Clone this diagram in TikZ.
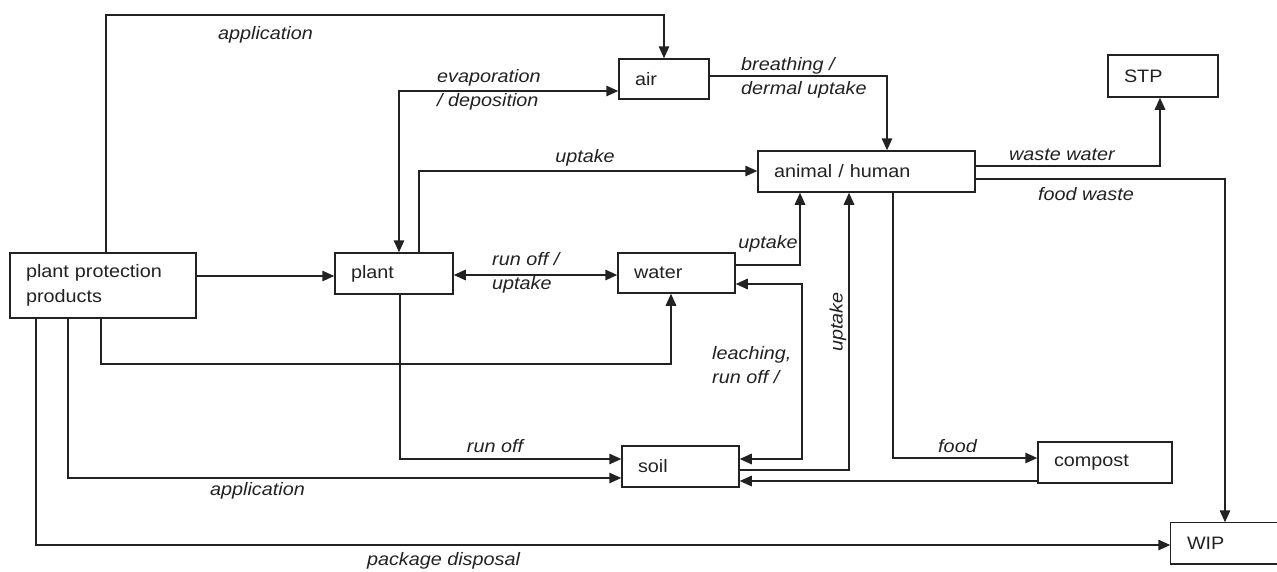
\documentclass[tikz,border=0pt]{standalone}
\usepackage{fontspec}
\setmainfont{Liberation Sans}[FakeStretch=1.1]
\usetikzlibrary{arrows.meta}
\definecolor{ink}{HTML}{222222}
\begin{document}
\begin{tikzpicture}[x=1pt,y=-1pt,
  box/.style={draw=ink, line width=1.5pt, inner xsep=16pt, inner ysep=0pt, align=left,
    font=\fontsize{18}{25}\selectfont, text=ink},
  lbl/.style={font=\fontsize{18}{24}\selectfont\itshape, text=ink, inner sep=0pt, align=left},
  con/.style={draw=ink, line width=1.5pt, -{Triangle[length=12pt,width=10.5pt]}},
  dcon/.style={draw=ink, line width=1.5pt, {Triangle[length=12pt,width=10.5pt]}-{Triangle[length=12pt,width=10.5pt]}},
  edge3/.style={draw=ink, line width=1.5pt}
]
\useasboundingbox[fill=white] (0,0) rectangle (1277,571);

% boxes
\node[box, text width=154pt, minimum height=65pt] (ppp) at (103,285.5) {plant protection\\products};
\node[box, text width=86pt, minimum height=41pt] (plant) at (394,273.5) {plant};
\node[box, text width=58pt, minimum height=40pt] (air) at (664,79) {air};
\node[box, text width=185pt, minimum height=41pt] (animal) at (866.5,171.5) {animal / human};
\node[box, text width=78pt, minimum height=42pt] (STP) at (1163,76) {STP};
\node[box, text width=85pt, minimum height=40pt] (water) at (676.5,273) {water};
\node[box, text width=85pt, minimum height=41pt] (soil) at (680.5,466.5) {soil};
\node[box, text width=102pt, minimum height=41pt] (compost) at (1105,462.5) {compost};
\node[box, draw=none, text width=97pt, minimum height=40pt] (WIP) at (1235.5,543) {WIP};
\draw[edge3] (WIP.north east) -- (WIP.north west) -- (WIP.south west) -- (WIP.south east);

% connectors
\draw[con] (ppp.north -| 106,0) |- (air.north |- 0,15) -- (air.north);
\draw[dcon] (air.west |- 0,91) -| (plant.north -| 399,0);
\draw[con] (plant.north -| 419,0) |- (animal.west |- 0,171);
\draw[con] (air.east |- 0,76) -| (animal.north -| 887,0);
\draw[con] (animal.east |- 0,166) -| (STP.south -| 1160,0);
\draw[con] (animal.east |- 0,179) -| (WIP.north -| 1225,0);
\draw[con] (ppp.east |- 0,276) -- (plant.west |- 0,276);
\draw[dcon] (plant.east |- 0,275) -- (water.west |- 0,275);
\draw[con] (water.east |- 0,265) -| (animal.south -| 800,0);
\draw[con] (ppp.south -| 101,0) |- (671,364) -- (water.south -| 671,0);
\draw[dcon] (soil.east |- 0,459) -| (802,284) -- (water.east |- 0,284);
\draw[con] (soil.east |- 0,470) -| (animal.south -| 849,0);
\draw[con] (plant.south -| 400,0) |- (soil.west |- 0,459);
\draw[con] (ppp.south -| 68,0) |- (soil.west |- 0,478);
\draw[con] (compost.west |- 0,481) -- (soil.east |- 0,481);
\draw[con] (animal.south -| 893,0) |- (compost.west |- 0,458);
\draw[con] (ppp.south -| 36,0) |- (WIP.west |- 0,545);

% labels
\node[lbl] (lApp1) at (265.5,34.5) {application};
\node[lbl, anchor=west] (lEvap) at (437,90) {evaporation\\/ deposition};
\node[lbl, anchor=west] (lBreath) at (741,77.5) {breathing /\\dermal uptake};
\node[lbl] (lUp1) at (585,158) {uptake};
\node[lbl] (lWW) at (1062,154.5) {waste water};
\node[lbl] (lFW) at (1086,194.5) {food waste};
\node[lbl, anchor=west] (lRun) at (492,273) {run off /\\uptake};
\node[lbl] (lUp2) at (768,243.5) {uptake};
\node[lbl, anchor=west] (lLeach) at (712,365) {leaching,\\run off /};
\node[lbl, rotate=90] (lUp3) at (838,322) {uptake};
\node[lbl] (lRunoff) at (495,446.5) {run off};
\node[lbl] (lApp2) at (257.5,490.5) {application};
\node[lbl] (lFood) at (957.5,446.5) {food};
\node[lbl] (lPkg) at (443.5,561) {package disposal};
\end{tikzpicture}
\end{document}
